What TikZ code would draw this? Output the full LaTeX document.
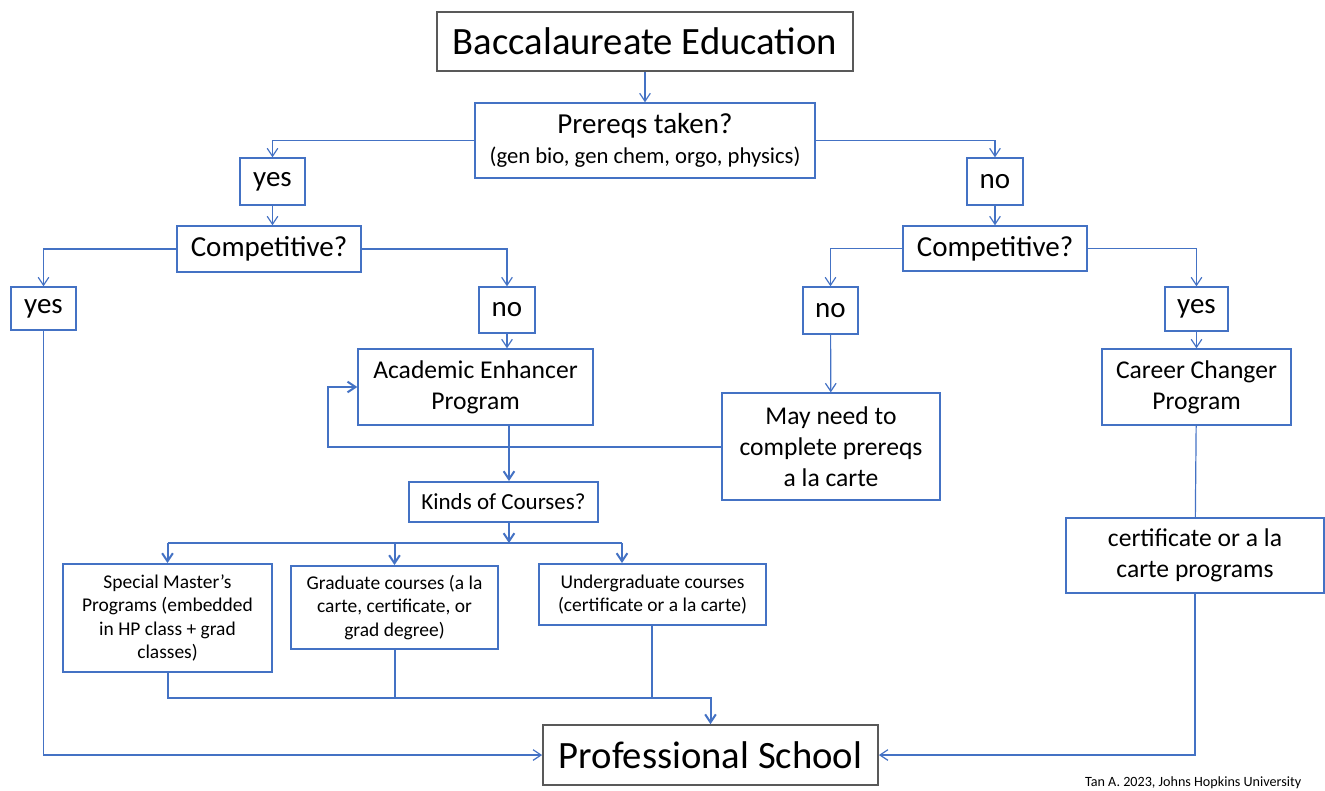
\documentclass[tikz,border=0pt]{standalone}
\usepackage{fontspec}
\setmainfont{Carlito}
\usetikzlibrary{arrows.meta}
\definecolor{lineblue}{HTML}{4472C4}
\definecolor{boxgrey}{HTML}{595959}
\tikzstyle{endblock} = [rectangle,draw=boxgrey,line width=1.3pt,text centered,inner sep=0pt,font=\fontsize{29}{34}\selectfont]

\begin{document}
\begin{tikzpicture}
		[
		x=0.75pt,y=-0.75pt,
		block/.style={
		draw=lineblue,
		rectangle,
		line width=1pt,
		align=center,
		inner sep=0pt},
		answer/.style={block,font=\fontsize{21.75}{26}\selectfont},
		midtext/.style={block,font=\fontsize{19.2}{23.25}\selectfont},
		smalltext/.style={block,line width=1.5pt,font=\fontsize{14.6}{17.5}\selectfont},
		arr/.style={draw=lineblue,line width=0.9pt,-{Straight Barb[length=6pt,width=8pt]}},
		thickarr/.style={arr,line width=1.5pt},
		link/.style={draw=lineblue,line width=0.9pt},
		thicklink/.style={link,line width=1.5pt}
		]
		\useasboundingbox (0,0) rectangle (1325,790);
		% top of the tree
		\node[endblock,minimum width=312pt,minimum height=44.25pt](bacc) at (645,41.5) {Baccalaureate Education};
		\node[answer,minimum width=255pt,minimum height=56.25pt](prereq) at (645,140.5) {Prereqs taken?\\[-4pt]{\fontsize{17}{20}\selectfont (gen bio, gen chem, orgo, physics)}};
		\node[answer,minimum width=48.75pt,minimum height=35.25pt](yes_top) at (272.5,181.5) {yes};
		\node[answer,minimum width=42pt,minimum height=35.25pt](no_top) at (995,181.5) {no};
		\node[answer,minimum width=138pt,minimum height=34.5pt](comp_yes) at (269,249) {Competitive?};
		\node[answer,minimum width=138pt,minimum height=33.75pt](comp_no) at (995,248.5) {Competitive?};
		% second answers
		\node[answer,minimum width=48.75pt,minimum height=32.25pt](yes_left) at (43.5,308.5) {yes};
		\node[answer,minimum width=42pt,minimum height=34.5pt](no_left) at (507,310) {no};
		\node[answer,minimum width=41.25pt,minimum height=35.25pt](no_right) at (830.5,310.5) {no};
		\node[answer,minimum width=47.25pt,minimum height=33pt](yes_right) at (1196.5,309) {yes};
		% programs
		\node[midtext,minimum width=176.25pt,minimum height=57pt](enhancer) at (475.5,387) {Academic Enhancer\\Program};
		\node[midtext,minimum width=141.75pt,minimum height=57pt](changer) at (1196.5,387) {Career Changer\\Program};
		\node[midtext,minimum width=163.5pt,minimum height=80.25pt](alacarte) at (831,446.5) {May need to\\complete prereqs\\a la carte};
		\node[midtext,minimum width=193.5pt,minimum height=56.25pt](certif) at (1195,555.5) {certificate or a la\\carte programs};
		\node[block,line width=1.5pt,font=\fontsize{17.25}{20}\selectfont,minimum width=141.75pt,minimum height=30pt](kinds) at (503.5,502) {Kinds of Courses?};
		% kinds of courses
		\node[smalltext,minimum width=156.75pt,minimum height=81pt](masters) at (167.5,618) {Special Master’s\\Programs (embedded\\in HP class + grad\\classes)};
		\node[smalltext,minimum width=155.25pt,minimum height=62.25pt](graduate) at (394.5,607.5) {Graduate courses (a la\\carte, certificate, or\\grad degree)};
		\node[smalltext,minimum width=170.25pt,minimum height=45.75pt](undergrad) at (652.5,594.5) {Undergraduate courses\\(certificate or a la carte)};
		\node[endblock,minimum width=251.25pt,minimum height=45pt](school) at (710.5,755) {Professional School};
		\node[font=\fontsize{10.6}{13}\selectfont,anchor=east](credit) at (1306,783) {Tan A. 2023, Johns Hopkins University};
		% helper points
		\coordinate (trunk) at (509,0);
		\coordinate (loop) at (328,0);
		\coordinate (bus) at (0,543);
		\coordinate (merge) at (0,698);
		\coordinate (ug_in) at (622,0);
		\coordinate (ug_out) at (652,0);
		% connectors
		\draw[arr] (bacc) -- (prereq);
		\draw[arr] (prereq.west) -| (yes_top.north);
		\draw[arr] (prereq.east) -| (no_top.north);
		\draw[arr] (yes_top.south) -- (yes_top.south |- comp_yes.north);
		\draw[arr] (no_top) -- (comp_no);
		\draw[arr] (comp_yes.west) -| (yes_left.north);
		\draw[arr] (comp_yes.east) -| (no_left.north);
		\draw[arr] (comp_no.west) -| (no_right.north);
		\draw[arr] (comp_no.east) -| (yes_right.north);
		\draw[arr] (no_left.south) -- (no_left.south |- enhancer.north);
		\draw[arr] (no_right) -- (alacarte);
		\draw[arr] (yes_right) -- (changer);
		\draw[link] (changer) -- (certif);
		\draw[thickarr] (alacarte.west) -- (alacarte.west -| loop) |- (enhancer.west);
		\draw[thickarr] (enhancer.south -| trunk) -- (kinds.north -| trunk);
		\draw[thickarr] (kinds.south -| trunk) -- (bus -| trunk);
		\draw[thicklink] (bus -| masters.north) -- (bus -| ug_in);
		\draw[thickarr] (bus -| masters.north) -- (masters.north);
		\draw[thickarr] (bus -| graduate.north) -- (graduate.north);
		\draw[thickarr] (bus -| ug_in) -- (undergrad.north -| ug_in);
		\draw[thickarr] (masters.south) |- (merge -| school.north) -- (school.north);
		\draw[thicklink] (graduate.south) -- (merge -| graduate.south);
		\draw[thicklink] (undergrad.south -| ug_out) -- (merge -| ug_out);
		\draw[arr] (yes_left.south) |- (school.west);
		\draw[arr] (certif.south) |- (school.east);
\end{tikzpicture}
\end{document}
